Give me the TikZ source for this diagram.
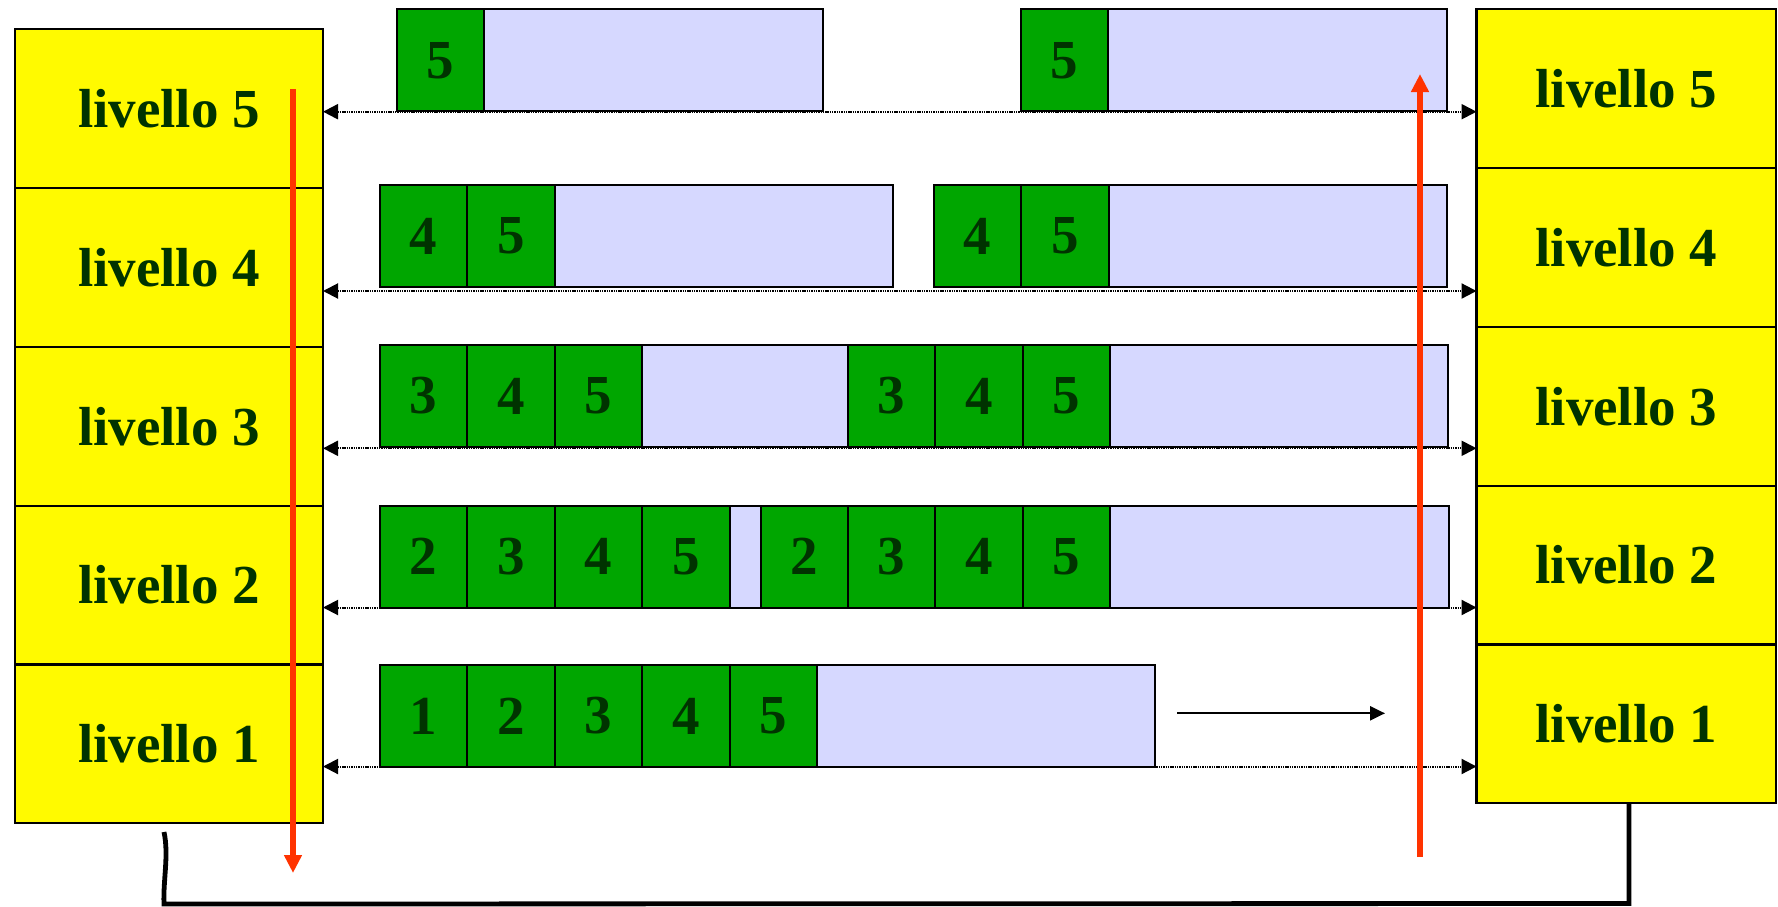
\documentclass[tikz,border=0pt]{standalone}
\usepackage{fontspec}
\setmainfont{Liberation Serif}
\usetikzlibrary{arrows.meta}
\definecolor{lvyellow}{RGB}{255,250,0}
\definecolor{lvgreen}{RGB}{0,166,0}
\definecolor{lvlav}{RGB}{214,216,255}
\definecolor{lvtext}{RGB}{0,51,0}
\definecolor{lvred}{RGB}{255,51,0}
\newcommand\gb[4]{\node[gbox] (#1) at ({#2+43.7},{#3+51}) {\raisebox{-3.8pt}{#4}};}
\newcommand\fr[4]{\node[frame,minimum width={(#3-#2)*0.5pt},anchor=north west] (#1) at (#2,#4) {};}
\newcommand\lv[1]{\raisebox{-3.8pt}{livello #1}}
\begin{document}
\begin{tikzpicture}[x=0.5pt,y=-0.5pt,
  lfont/.style={font=\fontsize{27.5}{27.5}\selectfont\bfseries,text=lvtext},
  level/.style={lfont,draw=black,line width=1.1pt,fill=lvyellow,minimum height=79.4pt,inner sep=0pt,outer sep=0pt},
  lcell/.style={level,minimum width=154pt},
  rcell/.style={level,minimum width=149.75pt},
  gbox/.style={lfont,draw=black,line width=1pt,fill=lvgreen,minimum width=43.7pt,minimum height=51pt,inner sep=0pt,outer sep=0pt},
  frame/.style={draw=black,line width=1pt,fill=lvlav,minimum height=51pt,inner sep=0pt,outer sep=0pt},
  dotarrow/.style={line width=1pt,dash pattern=on 0.7pt off 0.45pt,{Triangle[length=7.5pt,width=7.5pt]}-{Triangle[length=7.5pt,width=7.5pt]}},
  redarrow/.style={draw=lvred,line width=2.8pt,-{Triangle[length=9pt,width=8.5pt]}},
  solidarrow/.style={line width=1.1pt,-{Triangle[length=7.5pt,width=7pt]}},
  retline/.style={line width=2.4pt,line join=miter}]
\useasboundingbox (0,0) rectangle (1778,906);
% left stack
\node[lcell] (L5) at (169,108.7) {\lv{5}};
\node[lcell] (L4) at (169,267.5) {\lv{4}};
\node[lcell] (L3) at (169,426.3) {\lv{3}};
\node[lcell] (L2) at (169,585.1) {\lv{2}};
\node[lcell] (L1) at (169,743.9) {\lv{1}};
% right stack
\node[rcell] (R5) at (1626.3,88.7) {\lv{5}};
\node[rcell] (R4) at (1626.3,247.5) {\lv{4}};
\node[rcell] (R3) at (1626.3,406.3) {\lv{3}};
\node[rcell] (R2) at (1626.3,565.1) {\lv{2}};
\node[rcell] (R1) at (1626.3,723.9) {\lv{1}};
% row 5
\fr{f5a}{397}{823}{9.3}
\fr{f5b}{1021}{1447}{9.3}
\gb{g5a5}{397}{9.3}{5}
\gb{g5b5}{1021}{9.3}{5}
% row 4
\fr{f4a}{380}{893}{185}
\fr{f4b}{934}{1447}{185}
\gb{g4a4}{380}{185}{4}
\gb{g4a5}{467.4}{185}{5}
\gb{g4b4}{934}{185}{4}
\gb{g4b5}{1021.4}{185}{5}
% row 3
\fr{f3a}{380}{981}{345}
\fr{f3b}{848}{1448}{345}
\gb{g3a3}{380}{345}{3}
\gb{g3a4}{467.4}{345}{4}
\gb{g3a5}{554.8}{345}{5}
\gb{g3b3}{848}{345}{3}
\gb{g3b4}{935.4}{345}{4}
\gb{g3b5}{1022.8}{345}{5}
% row 2
\fr{f2a}{380}{1068}{505.7}
\fr{f2b}{760.6}{1449}{505.7}
\gb{g2a2}{380}{505.7}{2}
\gb{g2a3}{467.4}{505.7}{3}
\gb{g2a4}{554.8}{505.7}{4}
\gb{g2a5}{642.2}{505.7}{5}
\gb{g2b2}{760.6}{505.7}{2}
\gb{g2b3}{848}{505.7}{3}
\gb{g2b4}{935.4}{505.7}{4}
\gb{g2b5}{1022.8}{505.7}{5}
% row 1
\fr{f1a}{380}{1155}{665}
\gb{g1a1}{380}{665}{1}
\gb{g1a2}{467.4}{665}{2}
\gb{g1a3}{554.8}{665}{3}
\gb{g1a4}{642.2}{665}{4}
\gb{g1a5}{729.6}{665}{5}
% dotted connectors
\coordinate (d5) at (0,111.7);
\coordinate (d4) at (0,291);
\coordinate (d3) at (0,448.3);
\coordinate (d2) at (0,607.5);
\coordinate (d1) at (0,766.5);
\draw[dotarrow] (L5.east |- d5) -- (R5.west |- d5);
\draw[dotarrow] (L4.east |- d4) -- (R4.west |- d4);
\draw[dotarrow] (L3.east |- d3) -- (R3.west |- d3);
\draw[dotarrow] (L2.east |- d2) -- (R2.west |- d2);
\draw[dotarrow] (L1.east |- d1) -- (R1.west |- d1);
% solid arrow in row 1
\coordinate (sa1) at (1177,713.3);
\coordinate (sa2) at (1385,713.3);
\draw[solidarrow] (sa1) -- (sa2);
% red arrows
\coordinate (ra1) at (293,89);
\coordinate (ra2) at (293,873);
\coordinate (rb1) at (1420,857);
\coordinate (rb2) at (1420,74);
\draw[redarrow] (ra1) -- (ra2);
\draw[redarrow] (rb1) -- (rb2);
% return line
\coordinate (c1) at (164,832);
\coordinate (c2) at (164,904);
\coordinate (c3) at (1629,903.5);
\draw[retline] (c1) .. controls (169,855) and (163,880) .. (c2) -- (c3) -- (c3 |- R1.south);
\end{tikzpicture}
\end{document}
